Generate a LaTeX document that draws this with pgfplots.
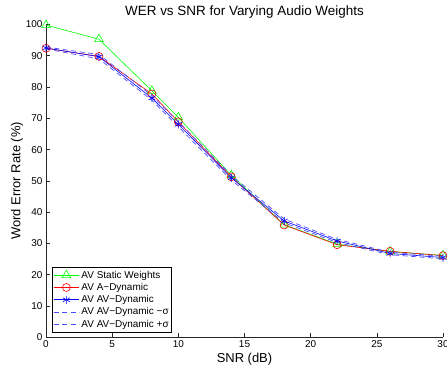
\documentclass[border=0pt]{standalone}
\usepackage{pgfplots}
\pgfplotsset{compat=1.18}
\usepackage{fontspec}
\setmainfont{Liberation Sans}
\begin{document}
\begin{tikzpicture}
\begin{axis}[
 name=ax,
 scale only axis, width=397bp, height=312.8bp,
 xmin=0,xmax=30,ymin=0,ymax=100,
 axis lines*=left,
 axis line style={black!85, line width=0.8pt},
 tick align=inside,
 xtick={0,5,...,30}, ytick={0,10,...,100},
 major tick length=4bp,
 tick style={black!85, line width=0.6pt},
 tick label style={font=\fontsize{10}{12}\selectfont},
 /pgf/number format/assume math mode=true,
 title={WER vs SNR for Varying Audio Weights},
 title style={font=\fontsize{13.5}{15}\selectfont, yshift=-3bp},
 xlabel={SNR (dB)}, ylabel={Word Error Rate (\%)},
 label style={font=\fontsize{13}{15}\selectfont},
 ylabel shift=-4bp,
 xlabel shift=-1.5bp,
 legend style={at={(0,0)}, anchor=south west, xshift=5.7bp, yshift=5bp,
   font=\fontsize{10}{11}\selectfont, draw=black, line width=0.8pt,
   inner sep=1.2pt, row sep=-0.4pt},
 legend cell align=left,
 legend image code/.code={
   \draw[mark repeat=2,mark phase=2,#1]
     plot coordinates {(0cm,0cm) (0.45cm,0cm) (0.9cm,0cm)};},
]
\addplot[color={rgb,255:red,0;green,255;blue,0}, line width=0.6pt, mark=triangle, mark size=5bp, mark options={solid}] coordinates {
(0,99.8) (4,95.3) (8,78.8) (10,70.3) (14,51.8) (18,36.0) (22,29.8) (26,27.4) (30,26.2)};
\addlegendentry{AV Static Weights}
\addplot[color=red, line width=0.6pt, mark=o, mark size=4bp, mark options={solid}] coordinates {
(0,92.4) (4,89.8) (8,77.8) (10,68.9) (14,51.3) (18,35.9) (22,29.6) (26,27.5) (30,26.1)};
\addlegendentry{AV A−Dynamic}
\addplot[color=blue, line width=0.6pt, mark=asterisk, mark size=4bp, mark options={solid}] coordinates {
(0,92.5) (4,89.7) (8,76.5) (10,68.1) (14,51.0) (18,37.2) (22,30.8) (26,26.8) (30,25.5)};
\addlegendentry{AV AV−Dynamic}
\addplot[color=blue!70, dash pattern=on 5bp off 3.5bp, line width=0.7pt] coordinates {
(0,92.2) (4,89.0) (8,75.8) (10,67.3) (14,50.3) (18,36.6) (22,30.3) (26,26.4) (30,25.1)};
\addlegendentry{AV AV−Dynamic −σ}
\addplot[color=blue!70, dash pattern=on 5bp off 3.5bp, line width=0.7pt] coordinates {
(0,92.8) (4,90.4) (8,77.3) (10,68.9) (14,51.8) (18,37.8) (22,31.3) (26,27.2) (30,25.9)};
\addlegendentry{AV AV−Dynamic +σ}
\end{axis}
\pgfresetboundingbox
\path[use as bounding box] ([xshift=-46bp,yshift=-32.7bp]ax.south west) rectangle ([xshift=4bp,yshift=24.5bp]ax.north east);
\end{tikzpicture}
\end{document}
